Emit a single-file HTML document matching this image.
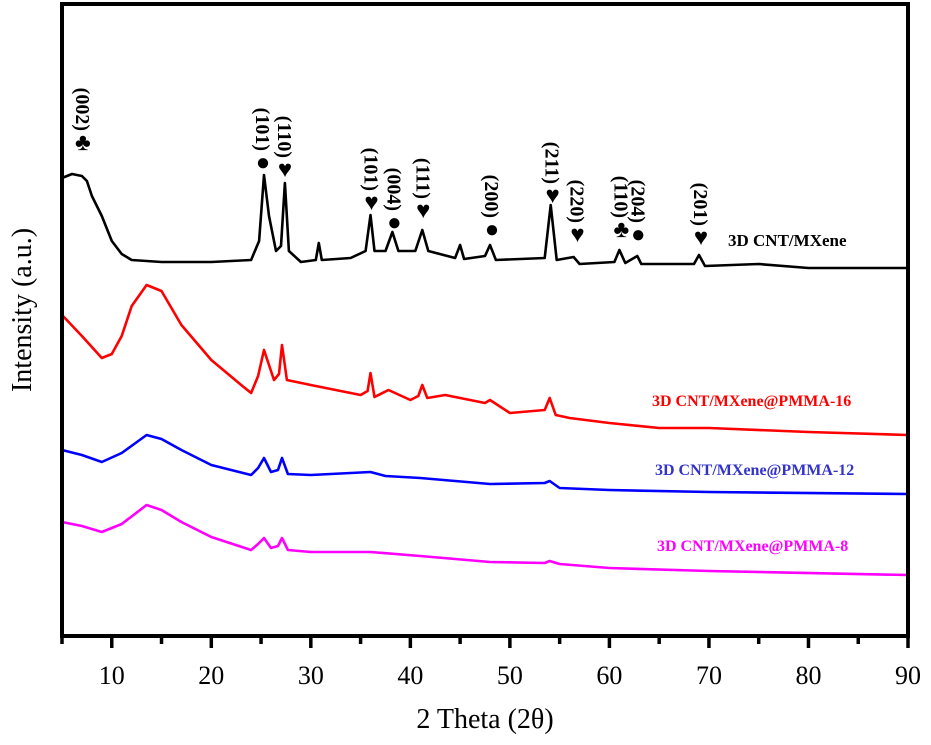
<!DOCTYPE html>
<html><head><meta charset="utf-8"><style>
html,body{margin:0;padding:0;background:#fff}
svg{display:block}
text{font-family:"Liberation Serif",serif}
</style></head><body>
<svg id="chart" width="931" height="745" viewBox="0 0 931 745" xmlns="http://www.w3.org/2000/svg">
<g id="series"></g>
<g id="annos"></g>
<rect x="62" y="4" width="846" height="632" fill="none" stroke="#000" stroke-width="4"/>
<g id="xaxis"></g>
<text x="485" y="728" font-size="28" text-anchor="middle">2 Theta (2θ)</text>
<text transform="translate(31,310) rotate(-90)" font-size="28" text-anchor="middle">Intensity (a.u.)</text>
<text x="728" y="246" font-size="17" font-weight="bold" fill="#000">3D CNT/MXene</text>
<text x="652" y="406" font-size="16" font-weight="bold" fill="#ff0000">3D CNT/MXene@PMMA-16</text>
<text x="655" y="475" font-size="16" font-weight="bold" fill="#3333cc">3D CNT/MXene@PMMA-12</text>
<text x="657" y="551" font-size="16" font-weight="bold" fill="#ff00ff">3D CNT/MXene@PMMA-8</text>
</svg>
<script>
const xTicks=[10,20,30,40,50,60,70,80,90];
const xMinor=[5,15,25,35,45,55,65,75,85];
const blackTheta=[5,6,7,7.5,8,9,10,11,12,15,20,24,24.8,25.3,25.8,26.5,27,27.4,27.8,29,30.5,30.8,31.1,34,35.5,36,36.4,37.5,38.2,38.8,40.5,41.2,41.8,44.5,45,45.4,47.5,48,48.6,53.5,54.1,54.7,56.4,57,60.5,61,61.6,62.8,63.2,68.5,69,69.6,75,80,90];
const blackI=[458,462,460,455,440,420,395,382,376,374,374,376,395,461,420,385,390,453,385,374,376,393,376,378,385,421,385,385,404,385,385,406,385,378,391,377,380,391,376,378,431,376,379,372,374,386,373,380,372,372,381,370,372,368,368];
const redTheta=[5,7,9,10,11,12,13.5,15,17,20,23,24,24.7,25.3,26.3,26.8,27.1,27.6,30,35,35.7,36,36.4,37.8,40,40.8,41.2,41.7,43.5,47.5,48,50,53.5,54,54.6,56,60,65,70,80,90];
const redI=[321,300,278,282,300,330,351,345,311,276,251,243,260,286,256,262,291,256,251,241,245,263,239,246,236,240,251,238,241,233,236,223,226,238,221,218,213,208,208,204,201];
const blueTheta=[5,7,9,11,13.5,15,17,20,24,24.7,25.3,26,26.7,27.1,27.7,30,36,37.5,41,48,53.5,54,55,60,70,90];
const blueI=[186,181,174,183,201,197,186,171,161,168,178,164,166,178,162,161,164,160,158,152,153,155,148,146,144,142];
const magTheta=[5,7,9,11,13.5,15,17,20,24,24.7,25.3,26,26.7,27.1,27.7,30,36,41,48,53.5,54,55,60,70,90];
const magI=[114,110,104,112,131,126,114,99,86,92,98,88,90,98,86,84,84,80,74,73,75,72,68,65,61];
const annoTheta=[7.1,25.2,27.4,36.1,38.4,41.3,48.2,54.3,56.8,61.2,62.9,69.2];
const annoHKL=["(002)","(101)","(110)","(101)","(004)","(111)","(200)","(211)","(220)","(110)","(204)","(201)"];
const annoSym=["♣","●","♥","♥","●","♥","●","♥","♥","♣","●","♥"];
const annoI=[486,466,459,426,406,418,399,433,394,399,394,391];

const NS="http://www.w3.org/2000/svg";
const xs=t=>62+(t-5)*(846/85);
const ys=v=>636-v;
const sg=document.getElementById('series');
function series(th,iv,col,name){
  const p=document.createElementNS(NS,'polyline');
  p.setAttribute('points',th.map((t,i)=>xs(t).toFixed(1)+','+ys(iv[i]).toFixed(1)).join(' '));
  p.setAttribute('fill','none');p.setAttribute('stroke',col);p.setAttribute('stroke-width','2.6');
  p.setAttribute('stroke-linejoin','round');
  
  
  sg.appendChild(p);
}
series(blackTheta,blackI,'#000','series-cnt-mxene');
series(redTheta,redI,'#ff0000','series-pmma-16');
series(blueTheta,blueI,'#0000ff','series-pmma-12');
series(magTheta,magI,'#ff00ff','series-pmma-8');

const ax=document.getElementById('xaxis');
function line(x1,y1,x2,y2,name){
  const l=document.createElementNS(NS,'line');
  l.setAttribute('x1',x1);l.setAttribute('y1',y1);l.setAttribute('x2',x2);l.setAttribute('y2',y2);
  l.setAttribute('stroke','#000');l.setAttribute('stroke-width','3.5');
  
  
  ax.appendChild(l);
}
xTicks.forEach(t=>{
  line(xs(t),636,xs(t),648,'x-major-tick');
  const tx=document.createElementNS(NS,'text');
  tx.setAttribute('x',xs(t));tx.setAttribute('y',684);tx.setAttribute('font-size','26');tx.setAttribute('text-anchor','middle');
  tx.textContent=t;
  
  
  ax.appendChild(tx);
});
xMinor.forEach(t=>line(xs(t),636,xs(t),644,'x-minor-tick'));

const ag=document.getElementById('annos');
annoTheta.forEach((t,i)=>{
  const x=xs(t), y=ys(annoI[i]);
  const s=document.createElementNS(NS,'text');
  s.setAttribute('x',x);s.setAttribute('y',y);s.setAttribute('font-size','24');s.setAttribute('text-anchor','middle');
  s.setAttribute('font-family','"DejaVu Sans",sans-serif');
  s.textContent=annoSym[i];
  
  
  ag.appendChild(s);
  const h=document.createElementNS(NS,'text');
  h.setAttribute('transform','translate('+(x-7)+','+(y-19)+') rotate(90)');
  h.setAttribute('font-size','20');h.setAttribute('font-weight','bold');h.setAttribute('text-anchor','end');
  h.textContent=annoHKL[i];
  
  
  ag.appendChild(h);
});
</script>
</body></html>
